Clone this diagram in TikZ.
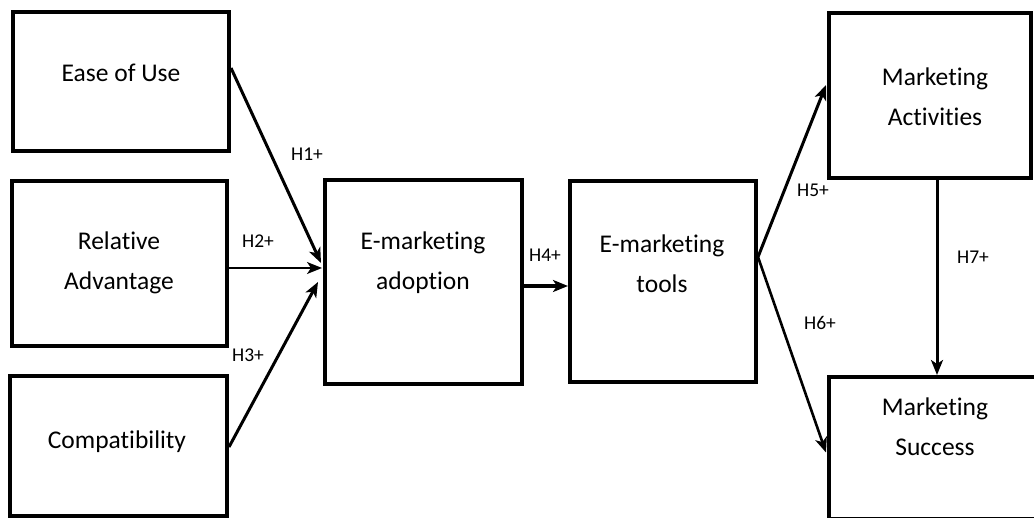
\documentclass[tikz,border=0pt]{standalone}
\usepackage{fontspec}
\setmainfont{Carlito}[Ligatures={NoCommon}]
\usetikzlibrary{arrows.meta,calc}
\tikzset{
  box/.style={draw=black, line width=4pt, rectangle, inner sep=0pt, fill=none},
  txt/.style={font=\fontsize{25.5}{40}\selectfont, align=center, inner sep=0pt},
  hyp/.style={font=\fontsize{19.5}{22}\selectfont, inner sep=0pt},
  conn/.style={line width=3pt, -{Stealth[length=15pt,width=12pt,inset=4pt]}},
}
\begin{document}
\begin{tikzpicture}[x=1pt,y=-1pt]
\useasboundingbox (0,0) rectangle (1034,518);
% boxes
\node[box, minimum width=216pt, minimum height=139pt] (eou) at (121,81.5) {};
\node[box, minimum width=215pt, minimum height=165pt] (rel) at (119.5,263.5) {};
\node[box, minimum width=217pt, minimum height=140pt] (comp) at (118.5,446) {};
\node[box, minimum width=197pt, minimum height=204pt] (adopt) at (423.5,282) {};
\node[box, minimum width=186pt, minimum height=201pt] (tools) at (663,281.5) {};
\node[box, minimum width=202pt, minimum height=165pt] (act) at (930,95.5) {};
\node[box, minimum width=216pt, minimum height=142pt] (succ) at (937,448) {};
% texts
\node[txt] (eout) at (121,73) {Ease of Use};
\node[txt] (relt) at (119,263) {Relative\\Advantage};
\node[txt] (compt) at (117,442) {Compatibility};
\node[txt] (adoptt) at (423,263) {E-marketing\\adoption};
\node[txt] (toolst) at (662,264) {E-marketing\\tools};
\node[txt] (actt) at (935,97) {Marketing\\Activities};
\node[txt] (succt) at (935,427) {Marketing\\Success};
% connectors
\coordinate (h7s) at ([xshift=7pt]act.south);
\draw[conn] ([yshift=13.5pt]eou.east) -- ([yshift=19pt,xshift=-2pt]adopt.west);
\draw[conn, line width=1.8pt] ([yshift=-4.5pt]rel.east) -- ([yshift=14pt,xshift=-1pt]adopt.west);
\draw[conn] ([yshift=-1pt]comp.east) -- ([xshift=-5pt]adopt.west);
\draw[conn, line width=3.4pt] ([yshift=-4pt]adopt.east) -- ([yshift=-4.5pt]tools.west);
\draw[conn] ([yshift=24.5pt]tools.east) -- ([yshift=10.5pt,xshift=-1pt]act.west);
\draw[conn, line width=2.6pt] ([yshift=24.5pt]tools.east) -- ([yshift=-4.5pt,xshift=-1pt]succ.west);
\draw[conn] (h7s) -- (h7s |- succ.north);
% labels
\node[hyp] (h1) at (307,154) {H1+};
\node[hyp] (h2) at (258,241) {H2+};
\node[hyp] (h3) at (248,355) {H3+};
\node[hyp] (h4) at (545,255) {H4+};
\node[hyp] (h5) at (813,190) {H5+};
\node[hyp] (h6) at (820,323) {H6+};
\node[hyp] (h7) at (973,257) {H7+};
\end{tikzpicture}
\end{document}
